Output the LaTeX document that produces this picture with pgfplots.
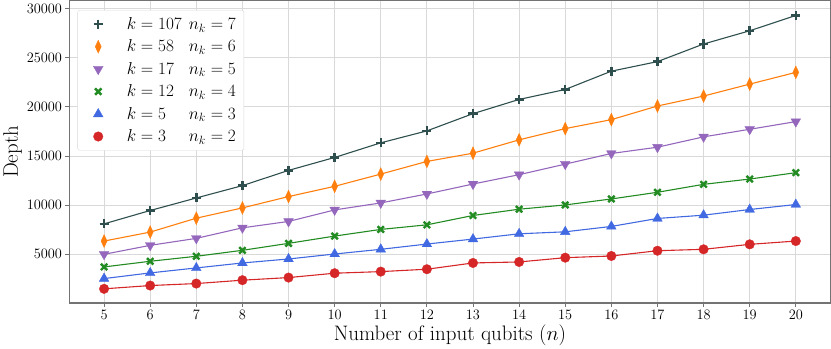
\documentclass[border=0pt]{standalone}
\usepackage{pgfplots}
\pgfplotsset{compat=1.18}
\definecolor{cblack}{HTML}{2F4F4F}
\definecolor{corange}{HTML}{FF7F0E}
\definecolor{cpurple}{HTML}{9467BD}
\definecolor{cgreen}{HTML}{228B22}
\definecolor{cblue}{HTML}{4169E1}
\definecolor{cred}{HTML}{D62728}
\newcommand{\lent}[2]{\makebox[62bp][l]{$k=#1$}$n_k=#2$}
\begin{document}
\begin{tikzpicture}
\begin{axis}[
  scale only axis, width=760bp, height=302bp,
  xmin=4.25, xmax=20.75, ymin=50, ymax=30800,
  xtick={5,...,20}, ytick={5000,10000,15000,20000,25000,30000},
  scaled y ticks=false,
  yticklabel style={/pgf/number format/1000 sep={}},
  grid=major, major grid style={black!15, line width=0.8bp},
  axis line style={black!55, line width=1.2bp},
  tick style={black!55, line width=0.8bp},
  tick align=outside, xtick pos=bottom, ytick pos=left,
  major tick length=4bp,
  tick label style={font=\fontsize{15}{15}\selectfont},
  label style={font=\fontsize{21}{21}\selectfont},
  xlabel={Number of input qubits ($n$)}, ylabel={Depth},
  xlabel style={yshift=2bp}, ylabel style={yshift=-2bp},
  legend cell align=left,
  legend image code/.code={\path (0bp,-1bp) (40bp,1bp);
    \draw[mark repeat=2,mark phase=2,#1,only marks] plot coordinates {(0bp,0bp)(14bp,0bp)(28bp,0bp)};},
  legend style={at={(0.0105,0.968)}, anchor=north west, draw=black!15, rounded corners=2bp,
    font=\fontsize{17}{17}\selectfont, row sep=5bp, inner xsep=6bp, inner ysep=5bp},
  every axis plot/.append style={line width=1.1bp},
]
\addplot[cblack, mark=+, mark size=4.5bp, mark options={line width=2.4bp}] coordinates {
(5,8097)(6,9453)(7,10729)(8,11984)(9,13532)(10,14848)(11,16336)(12,17551)
(13,19302)(14,20749)(15,21761)(16,23623)(17,24595)(18,26387)(19,27733)(20,29291)};
\addlegendentry{\lent{107}{7}}
\addplot[corange, mark=diamond*, mark size=6.5bp, mark options={xscale=0.62, line width=0.3bp}] coordinates {
(5,6346)(6,7257)(7,8674)(8,9717)(9,10870)(10,11913)(11,13158)(12,14443)
(13,15283)(14,16640)(15,17783)(16,18694)(17,20081)(18,21093)(19,22307)(20,23501)};
\addlegendentry{\lent{58}{6}}
\addplot[cpurple, mark=triangle*, mark size=5.6bp, mark options={rotate=180, line width=0.3bp}] coordinates {
(5,5000)(6,5911)(7,6619)(8,7692)(9,8340)(10,9514)(11,10223)(12,11134)
(13,12146)(14,13097)(15,14170)(16,15253)(17,15891)(18,16943)(19,17713)(20,18492)};
\addlegendentry{\lent{17}{5}}
\addplot[cgreen, mark=x, mark size=4.5bp, mark options={line width=2.4bp}] coordinates {
(5,3715)(6,4291)(7,4798)(8,5405)(9,6113)(10,6852)(11,7530)(12,7996)
(13,8947)(14,9585)(15,10020)(16,10628)(17,11306)(18,12115)(19,12652)(20,13300)};
\addlegendentry{\lent{12}{4}}
\addplot[cblue, mark=triangle*, mark size=5.6bp, mark options={line width=0.3bp}] coordinates {
(5,2530)(6,3107)(7,3613)(8,4119)(9,4524)(10,5030)(11,5506)(12,6043)
(13,6549)(14,7085)(15,7287)(16,7834)(17,8644)(18,8978)(19,9555)(20,10061)};
\addlegendentry{\lent{5}{3}}
\addplot[cred, mark=*, mark size=4.8bp, mark options={line width=0.3bp}] coordinates {
(5,1488)(6,1822)(7,2024)(8,2368)(9,2632)(10,3077)(11,3239)(12,3482)
(13,4119)(14,4221)(15,4656)(16,4828)(17,5364)(18,5506)(19,6012)(20,6346)};
\addlegendentry{\lent{3}{2}}
\end{axis}
\end{tikzpicture}
\end{document}
